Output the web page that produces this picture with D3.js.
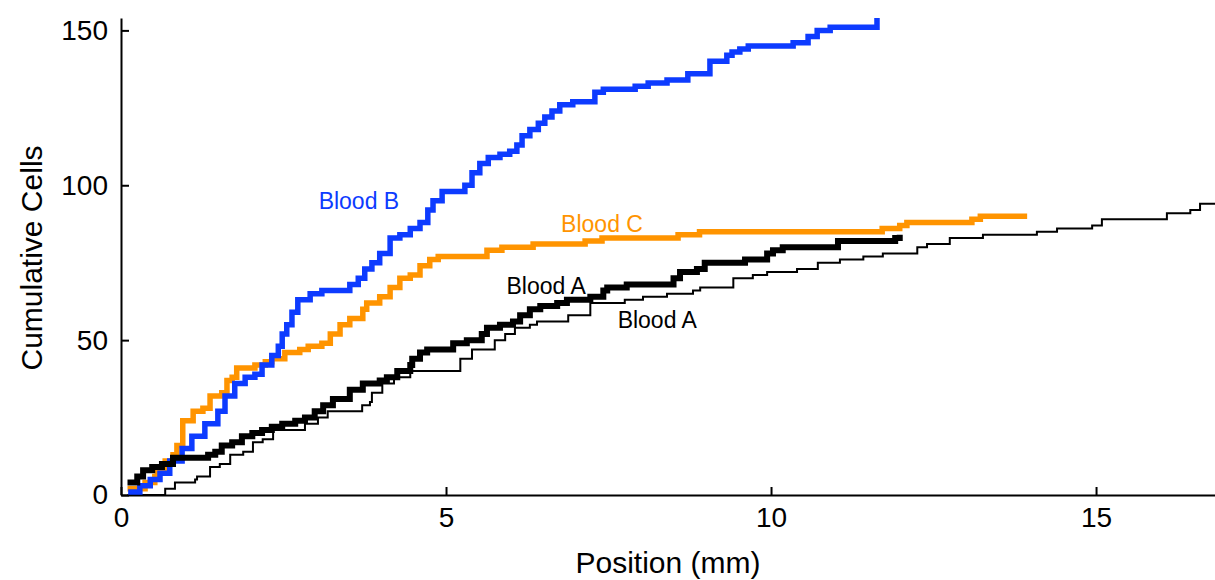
<!DOCTYPE html>
<meta charset="utf-8">
<style>
body { margin: 0; background: #fff; }
svg text { font-family: "Liberation Sans", Arial, Helvetica, sans-serif; }
</style>
<script src="https://d3js.org/d3.v7.min.js"></script>
<div id="chart"></div>
<script>

// cumulative cell counts: [position (mm), count]
var bloodB = [
  [0.11,1],[0.29,3],[0.45,5],[0.6,7],[0.75,11],[0.94,15],[1.09,19],[1.29,23],[1.49,27],
  [1.6,32],[1.75,36],[1.91,38],[2.06,39],[2.17,42],[2.32,45],[2.42,48],[2.48,52],[2.55,55],
  [2.63,59],[2.72,63],[2.91,65],[3.09,66],[3.52,68],[3.65,70],[3.75,73],[3.86,75],[3.98,78],
  [4.14,83],[4.29,84],[4.45,86],[4.6,88],[4.72,92],[4.8,95],[4.94,98],[5.29,100],[5.4,104],
  [5.52,107],[5.65,109],[5.83,110],[5.98,111],[6.09,113],[6.17,116],[6.29,118],[6.42,120],
  [6.52,122],[6.63,124],[6.75,126],[6.95,127],[7.29,130],[7.42,131],[7.91,132],[8.11,133],
  [8.4,134],[8.72,136],[9.06,140],[9.32,142],[9.4,143],[9.52,144],[9.65,145],[10.34,146],
  [10.57,148],[10.71,150],[10.91,151],[11.63,154]
];

var bloodC = [
  [0.1,2],[0.37,4],[0.52,6],[0.56,8],[0.68,11],[0.8,13],[0.86,16],[0.95,24],[1.11,27],
  [1.26,28],[1.37,32],[1.55,33],[1.63,37],[1.71,38],[1.78,41],[2.06,42],[2.22,43],[2.32,44],
  [2.52,46],[2.75,47],[2.88,48],[3.09,49],[3.22,52],[3.37,55],[3.52,57],[3.72,60],[3.78,62],
  [3.98,64],[4.14,67],[4.29,70],[4.45,71],[4.6,74],[4.75,76],[4.88,77],[5.63,79],[5.86,80],
  [6.34,81],[7.14,82],[7.4,83],[8.57,84],[8.9,85],[11.71,86],[11.98,87],[12.09,88],
  [13.09,89],[13.22,90],[13.94,90]
];

var bloodA1 = [
  [0.1,4],[0.25,6],[0.34,8],[0.48,9],[0.63,10],[0.8,12],[1.34,13],[1.45,14],[1.55,16],
  [1.71,17],[1.86,19],[2.02,20],[2.17,21],[2.32,22],[2.48,23],[2.68,24],[2.83,25],[2.98,27],
  [3.11,29],[3.26,31],[3.52,34],[3.72,36],[3.98,37],[4.09,38],[4.25,40],[4.45,42],[4.48,44],
  [4.6,46],[4.71,47],[5.11,49],[5.32,50],[5.55,52],[5.63,54],[5.83,55],[6.03,56],[6.14,58],
  [6.29,60],[6.45,61],[6.71,62],[6.86,63],[7.22,64],[7.42,66],[7.48,67],[7.78,68],[8.5,70],
  [8.6,72],[8.86,73],[8.98,75],[9.6,76],[9.94,78],[10.03,79],[10.18,80],[11.03,82],
  [11.91,83],[11.98,84]
];

var bloodA2 = [
  [0.1,0],[0.68,2],[0.83,4],[1.14,5],[1.17,6],[1.37,9],[1.52,10],[1.68,13],[1.88,14],
  [2.03,17],[2.18,18],[2.34,21],[2.83,23],[3.03,25],[3.18,27],[3.71,29],[3.83,30],[3.86,33],
  [4.02,36],[4.2,38],[4.45,40],[5.22,44],[5.4,47],[5.75,50],[5.91,52],[6.06,54],[6.29,55],
  [6.4,56],[6.88,58],[7.22,62],[7.75,63],[8.03,64],[8.4,65],[8.8,66],[8.91,67],[9.42,70],
  [9.72,71],[9.94,72],[10.4,73],[10.72,75],[11.06,76],[11.42,77],[11.72,78],[12.25,80],
  [12.4,81],[12.75,83],[13.26,84],[14.09,85],[14.4,86],[14.94,87],[15.09,89],[16.09,91],
  [16.45,92],[16.6,94],[16.83,94]
];

var xTicks = [0, 5, 10, 15];
var yTicks = [0, 50, 100, 150];

var width = 1215, height = 580;
var margin = {left: 121, right: 0, top: 18, bottom: 85};

var svg = d3.select("#chart")
  .append("svg")
    .attr("width", width)
    .attr("height", height);

var x = d3.scaleLinear()
  .domain([0, 16.83])
  .range([margin.left, width - margin.right]);

var y = d3.scaleLinear()
  .domain([0, 154])
  .range([height - margin.bottom, margin.top]);

// axes, MATLAB style ticks pointing inward
svg.append("g")
  .attr("transform", "translate(0," + y(0) + ")")
  .call(d3.axisBottom(x).tickValues(xTicks).tickSizeInner(-8).tickSizeOuter(0).tickPadding(12));

svg.append("g")
  .attr("transform", "translate(" + x(0) + ",0)")
  .call(d3.axisLeft(y).tickValues(yTicks).tickSizeInner(-8).tickSizeOuter(0).tickPadding(13));

svg.selectAll(".domain, .tick line")
  .attr("stroke", "#000")
  .attr("stroke-width", 2);
svg.selectAll(".tick text")
  .attr("fill", "#000")
  .style("font-size", "28px");

// axis titles
svg.append("text")
  .attr("text-anchor", "middle")
  .attr("x", 668)
  .attr("y", 573)
  .style("font-size", "30px")
  .text("Position (mm)");

svg.append("text")
  .attr("text-anchor", "middle")
  .attr("transform", "translate(42,258) rotate(-90)")
  .style("font-size", "30px")
  .text("Cumulative Cells");

var line = d3.line()
  .x(function(d) { return x(d[0]); })
  .y(function(d) { return y(d[1]); })
  .curve(d3.curveStepAfter);

var series = [
  {data: bloodA2, color: "#000", w: 2},
  {data: bloodC, color: "#ff9400", w: 5.5},
  {data: bloodB, color: "#0d3bff", w: 5.5},
  {data: bloodA1, color: "#000", w: 6}
];

series.forEach(function(s) {
  svg.append("path")
    .datum(s.data)
    .attr("fill", "none")
    .attr("stroke", s.color)
    .attr("stroke-width", s.w)
    .attr("stroke-linejoin", "miter")
    .attr("d", line);
});

// inline labels
var labels = [
  {text: "Blood B", pos: 3.66, cnt: 92.3, color: "#0d3bff"},
  {text: "Blood C", pos: 7.4, cnt: 84.8, color: "#ff9400"},
  {text: "Blood A", pos: 6.54, cnt: 64.8, color: "#000"},
  {text: "Blood A", pos: 8.25, cnt: 53.9, color: "#000"}
];

svg.selectAll("text.lbl")
  .data(labels)
  .enter()
  .append("text")
    .attr("class", "lbl")
    .attr("text-anchor", "middle")
    .attr("x", function(d) { return x(d.pos); })
    .attr("y", function(d) { return y(d.cnt); })
    .attr("fill", function(d) { return d.color; })
    .style("font-size", "23px")
    .text(function(d) { return d.text; });

</script>
